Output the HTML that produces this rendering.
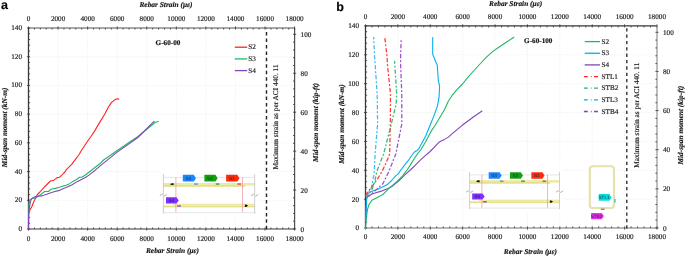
<!DOCTYPE html>
<html><head><meta charset="utf-8"><title>Chart</title>
<style>html,body{margin:0;padding:0;background:#fff;width:685px;height:256px;overflow:hidden}</style>
</head><body>
<svg width='685' height='256' viewBox='0 0 685 256' style='display:block;will-change:transform' text-rendering='geometricPrecision'><style>text{stroke:#222;stroke-width:0.18px;stroke-linejoin:round}</style><rect width='685' height='256' fill='#fff'/><path d='M58.07 28V229M87.63 28V229M117.2 28V229M146.77 28V229M176.33 28V229M205.9 28V229M235.47 28V229M265.03 28V229M294.6 28V229M28.5 200.29H294.6M28.5 171.57H294.6M28.5 142.86H294.6M28.5 114.14H294.6M28.5 85.43H294.6M28.5 56.71H294.6M28.5 28H294.6' stroke='#eeeeee' stroke-width='0.6' stroke-dasharray='2 1' fill='none'/><path d='M28.5 28H294.6' stroke='#a8a8a8' stroke-width='1.8' fill='none'/><path d='M28.5 229H294.6' stroke='#7a7a7a' stroke-width='1.6' fill='none'/><path d='M294.6 28V229' stroke='#505050' stroke-width='1.2' fill='none'/><path d='M28.5 28V229' stroke='#383838' stroke-width='1.3' fill='none'/><path d='M28.5 227.4V230.6M28.5 26.4V29.6M34.41 229V227.4M34.41 28V29.6M40.33 229V227.4M40.33 28V29.6M46.24 229V227.4M46.24 28V29.6M52.15 229V227.4M52.15 28V29.6M58.07 227.4V230.6M58.07 26.4V29.6M63.98 229V227.4M63.98 28V29.6M69.89 229V227.4M69.89 28V29.6M75.81 229V227.4M75.81 28V29.6M81.72 229V227.4M81.72 28V29.6M87.63 227.4V230.6M87.63 26.4V29.6M93.55 229V227.4M93.55 28V29.6M99.46 229V227.4M99.46 28V29.6M105.37 229V227.4M105.37 28V29.6M111.29 229V227.4M111.29 28V29.6M117.2 227.4V230.6M117.2 26.4V29.6M123.11 229V227.4M123.11 28V29.6M129.03 229V227.4M129.03 28V29.6M134.94 229V227.4M134.94 28V29.6M140.85 229V227.4M140.85 28V29.6M146.77 227.4V230.6M146.77 26.4V29.6M152.68 229V227.4M152.68 28V29.6M158.59 229V227.4M158.59 28V29.6M164.51 229V227.4M164.51 28V29.6M170.42 229V227.4M170.42 28V29.6M176.33 227.4V230.6M176.33 26.4V29.6M182.25 229V227.4M182.25 28V29.6M188.16 229V227.4M188.16 28V29.6M194.07 229V227.4M194.07 28V29.6M199.99 229V227.4M199.99 28V29.6M205.9 227.4V230.6M205.9 26.4V29.6M211.81 229V227.4M211.81 28V29.6M217.73 229V227.4M217.73 28V29.6M223.64 229V227.4M223.64 28V29.6M229.55 229V227.4M229.55 28V29.6M235.47 227.4V230.6M235.47 26.4V29.6M241.38 229V227.4M241.38 28V29.6M247.29 229V227.4M247.29 28V29.6M253.21 229V227.4M253.21 28V29.6M259.12 229V227.4M259.12 28V29.6M265.03 227.4V230.6M265.03 26.4V29.6M270.95 229V227.4M270.95 28V29.6M276.86 229V227.4M276.86 28V29.6M282.77 229V227.4M282.77 28V29.6M288.69 229V227.4M288.69 28V29.6M294.6 227.4V230.6M294.6 26.4V29.6M26.9 229H30.1M28.5 223.26H30.1M28.5 217.51H30.1M28.5 211.77H30.1M28.5 206.03H30.1M26.9 200.29H30.1M28.5 194.54H30.1M28.5 188.8H30.1M28.5 183.06H30.1M28.5 177.31H30.1M26.9 171.57H30.1M28.5 165.83H30.1M28.5 160.09H30.1M28.5 154.34H30.1M28.5 148.6H30.1M26.9 142.86H30.1M28.5 137.11H30.1M28.5 131.37H30.1M28.5 125.63H30.1M28.5 119.89H30.1M26.9 114.14H30.1M28.5 108.4H30.1M28.5 102.66H30.1M28.5 96.91H30.1M28.5 91.17H30.1M26.9 85.43H30.1M28.5 79.69H30.1M28.5 73.94H30.1M28.5 68.2H30.1M28.5 62.46H30.1M26.9 56.71H30.1M28.5 50.97H30.1M28.5 45.23H30.1M28.5 39.49H30.1M28.5 33.74H30.1M26.9 28H30.1M293 229H296.2M294.6 221.21H293M294.6 213.43H293M294.6 205.64H293M294.6 197.85H293M293 190.07H296.2M294.6 182.28H293M294.6 174.5H293M294.6 166.71H293M294.6 158.92H293M293 151.14H296.2M294.6 143.35H293M294.6 135.56H293M294.6 127.78H293M294.6 119.99H293M293 112.21H296.2M294.6 104.42H293M294.6 96.63H293M294.6 88.85H293M294.6 81.06H293M293 73.27H296.2M294.6 65.49H293M294.6 57.7H293M294.6 49.92H293M294.6 42.13H293M293 34.34H296.2' stroke='#333' stroke-width='0.8' fill='none'/><g style="font-family:'Liberation Serif',serif;font-size:7.2px" fill='#222'><text x='28.5' y='21.2' text-anchor='middle'>0</text><text x='28.5' y='240.6' text-anchor='middle'>0</text><text x='58.07' y='21.2' text-anchor='middle'>2000</text><text x='58.07' y='240.6' text-anchor='middle'>2000</text><text x='87.63' y='21.2' text-anchor='middle'>4000</text><text x='87.63' y='240.6' text-anchor='middle'>4000</text><text x='117.2' y='21.2' text-anchor='middle'>6000</text><text x='117.2' y='240.6' text-anchor='middle'>6000</text><text x='146.77' y='21.2' text-anchor='middle'>8000</text><text x='146.77' y='240.6' text-anchor='middle'>8000</text><text x='176.33' y='21.2' text-anchor='middle'>10000</text><text x='176.33' y='240.6' text-anchor='middle'>10000</text><text x='205.9' y='21.2' text-anchor='middle'>12000</text><text x='205.9' y='240.6' text-anchor='middle'>12000</text><text x='235.47' y='21.2' text-anchor='middle'>14000</text><text x='235.47' y='240.6' text-anchor='middle'>14000</text><text x='265.03' y='21.2' text-anchor='middle'>16000</text><text x='265.03' y='240.6' text-anchor='middle'>16000</text><text x='294.6' y='21.2' text-anchor='middle'>18000</text><text x='294.6' y='240.6' text-anchor='middle'>18000</text><text x='22' y='231' text-anchor='end'>0</text><text x='22' y='202.29' text-anchor='end'>20</text><text x='22' y='173.57' text-anchor='end'>40</text><text x='22' y='144.86' text-anchor='end'>60</text><text x='22' y='116.14' text-anchor='end'>80</text><text x='22' y='87.43' text-anchor='end'>100</text><text x='22' y='58.71' text-anchor='end'>120</text><text x='22' y='30' text-anchor='end'>140</text><text x='300.6' y='231.5'>0</text><text x='300.6' y='192.57'>20</text><text x='300.6' y='153.64'>40</text><text x='300.6' y='114.71'>60</text><text x='300.6' y='75.77'>80</text><text x='300.6' y='36.84'>100</text></g><text transform='translate(166 6.7)' text-anchor='middle' style="font-family:'Liberation Serif',serif;font-size:7.4px;font-weight:bold;font-style:italic" fill='#111'>Rebar Strain (με)</text><text transform='translate(172.5 253.2)' text-anchor='middle' style="font-family:'Liberation Serif',serif;font-size:7.4px;font-weight:bold;font-style:italic" fill='#111'>Rebar Strain (με)</text><text transform='translate(6.8 127.3) rotate(-90)' text-anchor='middle' style="font-family:'Liberation Serif',serif;font-size:7.4px;font-weight:bold;font-style:italic" fill='#111'>Mid-span moment (kN-m)</text><text transform='translate(318 122.5) rotate(-90)' text-anchor='middle' style="font-family:'Liberation Serif',serif;font-size:7.4px;font-weight:bold;font-style:italic" fill='#111'>Mid-span moment (kip-ft)</text><path d='M266.5 229.3V28.5' stroke='#222' stroke-width='1.4' stroke-dasharray='3.5 2.96' fill='none'/><text transform='translate(277.8 116.95) rotate(-90)' text-anchor='middle' style="font-family:'Liberation Serif',serif;font-size:7.32px" fill='#222'>Maximum strain as per ACI 440. 11</text><text transform='translate(155.6 45.4)' style="font-family:'Liberation Serif',serif;font-size:7.2px;font-weight:bold" fill='#111'>G-60-00</text><path d='M234.8 47.2H247.2' stroke='#ff2222' stroke-width='1.3' fill='none'/><text x='248.2' y='49.25' style="font-family:'Liberation Serif',serif;font-size:7.2px" fill='#222'>S2</text><path d='M234.8 58.9H247.2' stroke='#1fb864' stroke-width='1.3' fill='none'/><text x='248.2' y='60.95' style="font-family:'Liberation Serif',serif;font-size:7.2px" fill='#222'>S3</text><path d='M234.8 70.6H247.2' stroke='#8048b8' stroke-width='1.3' fill='none'/><text x='248.2' y='72.65' style="font-family:'Liberation Serif',serif;font-size:7.2px" fill='#222'>S4</text><path d='M397.89 25.9V228M430.28 25.9V228M462.67 25.9V228M495.06 25.9V228M527.44 25.9V228M559.83 25.9V228M592.22 25.9V228M624.61 25.9V228M657 25.9V228M365.5 199.13H657M365.5 170.26H657M365.5 141.39H657M365.5 112.51H657M365.5 83.64H657M365.5 54.77H657M365.5 25.9H657' stroke='#eeeeee' stroke-width='0.6' stroke-dasharray='2 1' fill='none'/><path d='M365.5 25.9H657' stroke='#383838' stroke-width='1.3' fill='none'/><path d='M365.5 228H657' stroke='#a0a0a0' stroke-width='1.6' fill='none'/><path d='M657 25.9V228' stroke='#a8a8a8' stroke-width='1.5' fill='none'/><path d='M365.5 25.9V228' stroke='#383838' stroke-width='1.3' fill='none'/><path d='M365.5 226.4V229.6M365.5 24.3V27.5M371.98 228V226.4M371.98 25.9V27.5M378.46 228V226.4M378.46 25.9V27.5M384.93 228V226.4M384.93 25.9V27.5M391.41 228V226.4M391.41 25.9V27.5M397.89 226.4V229.6M397.89 24.3V27.5M404.37 228V226.4M404.37 25.9V27.5M410.84 228V226.4M410.84 25.9V27.5M417.32 228V226.4M417.32 25.9V27.5M423.8 228V226.4M423.8 25.9V27.5M430.28 226.4V229.6M430.28 24.3V27.5M436.76 228V226.4M436.76 25.9V27.5M443.23 228V226.4M443.23 25.9V27.5M449.71 228V226.4M449.71 25.9V27.5M456.19 228V226.4M456.19 25.9V27.5M462.67 226.4V229.6M462.67 24.3V27.5M469.14 228V226.4M469.14 25.9V27.5M475.62 228V226.4M475.62 25.9V27.5M482.1 228V226.4M482.1 25.9V27.5M488.58 228V226.4M488.58 25.9V27.5M495.06 226.4V229.6M495.06 24.3V27.5M501.53 228V226.4M501.53 25.9V27.5M508.01 228V226.4M508.01 25.9V27.5M514.49 228V226.4M514.49 25.9V27.5M520.97 228V226.4M520.97 25.9V27.5M527.44 226.4V229.6M527.44 24.3V27.5M533.92 228V226.4M533.92 25.9V27.5M540.4 228V226.4M540.4 25.9V27.5M546.88 228V226.4M546.88 25.9V27.5M553.36 228V226.4M553.36 25.9V27.5M559.83 226.4V229.6M559.83 24.3V27.5M566.31 228V226.4M566.31 25.9V27.5M572.79 228V226.4M572.79 25.9V27.5M579.27 228V226.4M579.27 25.9V27.5M585.74 228V226.4M585.74 25.9V27.5M592.22 226.4V229.6M592.22 24.3V27.5M598.7 228V226.4M598.7 25.9V27.5M605.18 228V226.4M605.18 25.9V27.5M611.66 228V226.4M611.66 25.9V27.5M618.13 228V226.4M618.13 25.9V27.5M624.61 226.4V229.6M624.61 24.3V27.5M631.09 228V226.4M631.09 25.9V27.5M637.57 228V226.4M637.57 25.9V27.5M644.04 228V226.4M644.04 25.9V27.5M650.52 228V226.4M650.52 25.9V27.5M657 226.4V229.6M657 24.3V27.5M363.9 228H367.1M365.5 222.23H367.1M365.5 216.45H367.1M365.5 210.68H367.1M365.5 204.9H367.1M363.9 199.13H367.1M365.5 193.35H367.1M365.5 187.58H367.1M365.5 181.81H367.1M365.5 176.03H367.1M363.9 170.26H367.1M365.5 164.48H367.1M365.5 158.71H367.1M365.5 152.93H367.1M365.5 147.16H367.1M363.9 141.39H367.1M365.5 135.61H367.1M365.5 129.84H367.1M365.5 124.06H367.1M365.5 118.29H367.1M363.9 112.51H367.1M365.5 106.74H367.1M365.5 100.97H367.1M365.5 95.19H367.1M365.5 89.42H367.1M363.9 83.64H367.1M365.5 77.87H367.1M365.5 72.09H367.1M365.5 66.32H367.1M365.5 60.55H367.1M363.9 54.77H367.1M365.5 49H367.1M365.5 43.22H367.1M365.5 37.45H367.1M365.5 31.67H367.1M363.9 25.9H367.1M655.4 228H658.6M657 220.17H655.4M657 212.34H655.4M657 204.51H655.4M657 196.68H655.4M655.4 188.86H658.6M657 181.03H655.4M657 173.2H655.4M657 165.37H655.4M657 157.54H655.4M655.4 149.71H658.6M657 141.88H655.4M657 134.05H655.4M657 126.22H655.4M657 118.4H655.4M655.4 110.57H658.6M657 102.74H655.4M657 94.91H655.4M657 87.08H655.4M657 79.25H655.4M655.4 71.42H658.6M657 63.59H655.4M657 55.76H655.4M657 47.94H655.4M657 40.11H655.4M655.4 32.28H658.6' stroke='#333' stroke-width='0.8' fill='none'/><g style="font-family:'Liberation Serif',serif;font-size:7.2px" fill='#222'><text x='365.5' y='18.9' text-anchor='middle'>0</text><text x='365.5' y='239.3' text-anchor='middle'>0</text><text x='397.89' y='18.9' text-anchor='middle'>2000</text><text x='397.89' y='239.3' text-anchor='middle'>2000</text><text x='430.28' y='18.9' text-anchor='middle'>4000</text><text x='430.28' y='239.3' text-anchor='middle'>4000</text><text x='462.67' y='18.9' text-anchor='middle'>6000</text><text x='462.67' y='239.3' text-anchor='middle'>6000</text><text x='495.06' y='18.9' text-anchor='middle'>8000</text><text x='495.06' y='239.3' text-anchor='middle'>8000</text><text x='527.44' y='18.9' text-anchor='middle'>10000</text><text x='527.44' y='239.3' text-anchor='middle'>10000</text><text x='559.83' y='18.9' text-anchor='middle'>12000</text><text x='559.83' y='239.3' text-anchor='middle'>12000</text><text x='592.22' y='18.9' text-anchor='middle'>14000</text><text x='592.22' y='239.3' text-anchor='middle'>14000</text><text x='624.61' y='18.9' text-anchor='middle'>16000</text><text x='624.61' y='239.3' text-anchor='middle'>16000</text><text x='657' y='18.9' text-anchor='middle'>18000</text><text x='657' y='239.3' text-anchor='middle'>18000</text><text x='359' y='230.4' text-anchor='end'>0</text><text x='359' y='201.53' text-anchor='end'>20</text><text x='359' y='172.66' text-anchor='end'>40</text><text x='359' y='143.79' text-anchor='end'>60</text><text x='359' y='114.91' text-anchor='end'>80</text><text x='359' y='86.04' text-anchor='end'>100</text><text x='359' y='57.17' text-anchor='end'>120</text><text x='359' y='28.3' text-anchor='end'>140</text><text x='663' y='230.5'>0</text><text x='663' y='191.36'>20</text><text x='663' y='152.21'>40</text><text x='663' y='113.07'>60</text><text x='663' y='73.92'>80</text><text x='663' y='34.78'>100</text></g><text transform='translate(515.6 6.3)' text-anchor='middle' style="font-family:'Liberation Serif',serif;font-size:7.4px;font-weight:bold;font-style:italic" fill='#111'>Rebar Strain (με)</text><text transform='translate(530.4 253.7)' text-anchor='middle' style="font-family:'Liberation Serif',serif;font-size:7.4px;font-weight:bold;font-style:italic" fill='#111'>Rebar Strain (με)</text><text transform='translate(344.2 124) rotate(-90)' text-anchor='middle' style="font-family:'Liberation Serif',serif;font-size:7.4px;font-weight:bold;font-style:italic" fill='#111'>Mid-span moment (kN-m)</text><text transform='translate(683 125.2) rotate(-90)' text-anchor='middle' style="font-family:'Liberation Serif',serif;font-size:7.4px;font-weight:bold;font-style:italic" fill='#111'>Mid-span moment (kip-ft)</text><path d='M626.8 228.5V26.4' stroke='#222' stroke-width='1.3' stroke-dasharray='3.3 3.055' fill='none'/><text transform='translate(638.8 115.2) rotate(-90)' text-anchor='middle' style="font-family:'Liberation Serif',serif;font-size:7.32px" fill='#222'>Maximum strain as per ACI 440. 11</text><text transform='translate(524.1 43.4)' style="font-family:'Liberation Serif',serif;font-size:7.2px;font-weight:bold" fill='#111'>G-60-100</text><path d='M584.7 41.6H600' stroke='#1fb864' stroke-width='1.3' fill='none'/><text x='601.5' y='43.65' style="font-family:'Liberation Serif',serif;font-size:7.2px" fill='#222'>S2</text><path d='M584.7 53.25H600' stroke='#00b0f0' stroke-width='1.3' fill='none'/><text x='601.5' y='55.3' style="font-family:'Liberation Serif',serif;font-size:7.2px" fill='#222'>S3</text><path d='M584.7 64.9H600' stroke='#8048b8' stroke-width='1.3' fill='none'/><text x='601.5' y='66.95' style="font-family:'Liberation Serif',serif;font-size:7.2px" fill='#222'>S4</text><path d='M583.9 76.55H598.4' stroke='#ff2222' stroke-width='1.3' stroke-dasharray='3.9 3 0.8 2.4' fill='none'/><text x='601.5' y='78.6' style="font-family:'Liberation Serif',serif;font-size:7.2px" fill='#222'>STL1</text><path d='M583.9 88.2H598.4' stroke='#1fb864' stroke-width='1.3' stroke-dasharray='3.9 3 0.8 2.4' fill='none'/><text x='601.5' y='90.25' style="font-family:'Liberation Serif',serif;font-size:7.2px" fill='#222'>STB2</text><path d='M583.9 99.85H598.4' stroke='#00b0f0' stroke-width='1.3' stroke-dasharray='3.9 3 0.8 2.4' fill='none'/><text x='601.5' y='101.9' style="font-family:'Liberation Serif',serif;font-size:7.2px" fill='#222'>STL3</text><path d='M583.9 111.5H598.4' stroke='#9933cc' stroke-width='1.3' stroke-dasharray='3.9 3 0.8 2.4' fill='none'/><text x='601.5' y='113.55' style="font-family:'Liberation Serif',serif;font-size:7.2px" fill='#222'>STB4</text><text x='0.9' y='9.0' style="font-family:'Liberation Sans',sans-serif;font-size:12.5px;font-weight:bold" fill='#000'>a</text><text x='336.2' y='11.3' style="font-family:'Liberation Sans',sans-serif;font-size:12.5px;font-weight:bold" fill='#000'>b</text><path d='M28.6 214 L29.3 210.6 L30.1 209.6 L31.9 206.5 L32.8 204 L34.6 200.1 L36 197.3 L37.4 194.5 L39.9 192 L43.8 187.6 L46.9 184.5 L50.5 181 L54 180.2 L57.1 177.6 L59.4 177.3 L62.6 174.3 L64.9 172 L65.9 170.2 L71.7 164.4 L75.2 159.7 L78.8 155 L81.7 150 L87.2 141.7 L91.1 136.25 L95 130.4 L99.4 122.9 L104.8 114 L108.3 107.3 L111.4 102.6 L114.5 99.9 L116.9 98.8 L118.8 99.1' stroke='#ff2222' stroke-width='1.1' fill='none' stroke-linejoin='round' stroke-linecap='round'/><path d='M28.5 228.6 L28.7 213 L28.9 204 L29.6 200.1 L31.7 198.7 L33.9 198.3 L36 198 L38.1 196.2 L40.9 194.5 L43 192.7 L44.6 191.5 L48.5 191.5 L50.8 189.3 L55.5 188.4 L59.4 187.2 L63.3 185.9 L66 185.3 L68.2 184.6 L72.9 181.4 L76.4 179.6 L79.3 177.3 L81.7 177.3 L84.6 175.5 L89.3 172 L95.2 167.3 L99.9 163.8 L103.6 160 L116.5 151 L137.9 136.5 L155.1 122.5 L158.3 121.4' stroke='#1fb864' stroke-width='1.1' fill='none' stroke-linejoin='round' stroke-linecap='round'/><path d='M28.4 228.6 L28.6 215 L29.2 208.6 L30 204 L31 199.7 L32.5 198 L34.6 196.9 L38.1 196.2 L41.6 195.9 L45.1 194.8 L48 193.7 L53.2 192 L59.4 190.4 L63.3 188.6 L66 187.6 L71.7 185 L77.6 181.4 L83.4 178.4 L85.8 177.3 L89.3 174.9 L95.2 170.2 L99.9 166.1 L116.5 152.6 L137.9 137.5 L154 121.4' stroke='#8048b8' stroke-width='1.1' fill='none' stroke-linejoin='round' stroke-linecap='round'/><path d='M365.7 220 L366 210 L366.4 200 L366.8 197 L368.7 196.3 L371 194.6 L375.7 192.8 L381.6 191.1 L387.4 188.7 L392.1 186.4 L399.1 180.5 L405 174.7 L410.9 169.5 L415.6 164.8 L420.3 160.2 L425 155.9 L430.1 151.5 L434.4 147.2 L438.3 142.9 L440.6 141.2 L444.5 139.4 L448.4 137.1 L452 133.8 L462.2 125.3 L472.3 117.7 L482 111' stroke='#8048b8' stroke-width='1.1' fill='none' stroke-linejoin='round' stroke-linecap='round'/><path d='M365.6 228.5 L365.9 221.7 L366.7 215.7 L367.4 209.8 L368.9 204.6 L371.9 200.2 L376.3 197.9 L379.4 196.3 L382.6 194.8 L388.6 188.7 L396.8 181.7 L402.6 175.9 L407.4 169.5 L410.9 164.1 L414.8 157.8 L418 153.1 L420.7 150 L425.5 142 L431.2 131.1 L435.3 125 L439.8 117.5 L444.3 110 L448.3 101.3 L452.3 95.2 L457.4 89.1 L462.5 84 L468 77.2 L474 70.5 L480 64 L486.7 56.9 L492.6 51.6 L498.4 47.5 L505.5 42.8 L513.8 37.3' stroke='#1fb864' stroke-width='1.1' fill='none' stroke-linejoin='round' stroke-linecap='round'/><path d='M365.8 220 L366.1 210 L366.5 200 L367.3 195.7 L368.1 193.4 L371 191.7 L375.7 189.9 L381.6 187.6 L387.4 184.6 L392.1 180 L395.6 175.9 L398 174.1 L401.2 169.5 L404.7 164.8 L408.6 160.2 L411.7 155.5 L414.5 152 L415.6 151.2 L417.2 150.4 L418.8 148.7 L425.8 135.8 L430.2 125 L433.8 116.1 L437.3 106.4 L439 97.6 L439.6 87 L439.3 84.6 L438.3 80.8 L437.3 65.5 L434.7 59.2 L432.7 54.1 L432.7 37.6' stroke='#00b0f0' stroke-width='1.1' fill='none' stroke-linejoin='round' stroke-linecap='round'/><path d='M366.2 197 L368.5 192.5 L371.3 188 L374.2 173 L375.1 154 L377.6 124 L377.2 94 L375.2 65 L374.5 56 L373.7 37.3' stroke='#3cbef0' stroke-width='1.3' fill='none' stroke-linejoin='round' stroke-linecap='round' stroke-dasharray='3.3 2.9 0.9 2.9'/><path d='M365.9 195 L370 189 L373.4 184.6 L378 178.2 L382.1 171.2 L386.5 162 L389.7 154 L390.3 124 L390.5 94 L387.5 65 L387 56 L384.8 37.5' stroke='#ff3c3c' stroke-width='1.3' fill='none' stroke-linejoin='round' stroke-linecap='round' stroke-dasharray='3.3 2.9 0.9 2.9'/><path d='M366.5 198 L369 193.5 L372.2 189 L375 181 L376.6 172 L383.6 154 L391.3 124 L394.2 112 L396 105 L396.7 94 L394.8 65 L394.6 61.5' stroke='#38bf74' stroke-width='1.3' fill='none' stroke-linejoin='round' stroke-linecap='round' stroke-dasharray='3.3 2.9 0.9 2.9'/><path d='M367 197 L372 193.5 L379.2 187 L383 183.5 L388.6 172 L395.8 154 L401.8 124 L401.8 94 L400.6 65 L400.6 56 L401.2 38.1' stroke='#9a55c8' stroke-width='1.3' fill='none' stroke-linejoin='round' stroke-linecap='round' stroke-dasharray='3.3 2.9 0.9 2.9'/><rect x='158.5' y='167' width='100' height='49' fill='#fff'/><rect x='466.5' y='166' width='96.5' height='47' fill='#fff'/><rect x='586.5' y='163' width='30.5' height='58' fill='#fff'/><path d='M163.4 177.4H254.7M163.4 212.7H254.7' stroke='#d4d4d4' stroke-width='0.6' fill='none'/><rect x='163.4' y='183' width='91.3' height='1.9' fill='#ece9a4'/><rect x='163.4' y='184.9' width='82' height='1.9' fill='#e4e08e'/><rect x='245.4' y='184.9' width='9.3' height='1' fill='#f1efc0'/><rect x='163.4' y='205.55' width='91.3' height='1.85' fill='#e4e08e'/><rect x='172.9' y='203.7' width='81.8' height='1.85' fill='#ece9a4'/><path d='M175.9 177.4V212.4M242.5 177.4V212.4' stroke='#ec8c94' stroke-width='0.65' fill='none'/><path d='M163.4 174.1V194M163.4 196V213.8' stroke='#c2c2c2' stroke-width='0.8' fill='none'/><path d='M159.8 195.7L162.4 194.1L164.4 196L167 194.5' stroke='#a0a0a0' stroke-width='0.8' fill='none' stroke-linejoin='round'/><path d='M254.7 174.1V194M254.7 196V213.8' stroke='#c2c2c2' stroke-width='0.8' fill='none'/><path d='M251.1 195.7L253.7 194.1L255.7 196L258.3 194.5' stroke='#a0a0a0' stroke-width='0.8' fill='none' stroke-linejoin='round'/><path d='M169.7 184.15L172 183.15H173.6V185.1H172Z' fill='#111'/><path d='M248.1 205.75L246.1 204.6H244.9V206.9H246.1Z' fill='#111'/><rect x='194.2' y='183.4' width='3.6' height='1.3' fill='#4a8fd0'/><rect x='215.8' y='183.4' width='3.6' height='1.3' fill='#2e9a2e'/><rect x='237.4' y='183.4' width='3.6' height='1.3' fill='#e04020'/><rect x='177.2' y='205.3' width='3.6' height='1.3' fill='#7a3fd0'/><path d='M182.8 174.7H193.8L196 178.15L193.8 181.6H182.8Z' fill='#1a86ff'/><text x='188.3' y='179.81' text-anchor='middle' style="font-family:'Liberation Sans',sans-serif;font-size:4.6px;stroke:none" fill='#1e2a3a'>S3</text><path d='M204.4 174.7H215.4L217.6 178.15L215.4 181.6H204.4Z' fill='#10a010'/><text x='209.9' y='179.81' text-anchor='middle' style="font-family:'Liberation Sans',sans-serif;font-size:4.6px;stroke:none" fill='#1e2a3a'>S2</text><path d='M226.1 174.7H237.3L239.5 178.15L237.3 181.6H226.1Z' fill='#ff2a0a'/><text x='231.7' y='179.81' text-anchor='middle' style="font-family:'Liberation Sans',sans-serif;font-size:4.6px;stroke:none" fill='#1e2a3a'>S1</text><path d='M166 197.3H176.5L178.7 200.4L176.5 203.5H166Z' fill='#7f2fff'/><text x='171.25' y='202.06' text-anchor='middle' style="font-family:'Liberation Sans',sans-serif;font-size:4.6px;stroke:none" fill='#1e2a3a'>S4</text><path d='M469.6 174.9H559.53M469.6 208.08H559.53' stroke='#d4d4d4' stroke-width='0.6' fill='none'/><rect x='469.6' y='180.17' width='89.93' height='1.79' fill='#ece9a4'/><rect x='469.6' y='181.95' width='80.77' height='1.79' fill='#e4e08e'/><rect x='550.37' y='181.95' width='9.16' height='0.94' fill='#f1efc0'/><rect x='469.6' y='201.36' width='89.93' height='1.74' fill='#e4e08e'/><rect x='478.96' y='199.62' width='80.57' height='1.74' fill='#ece9a4'/><path d='M481.91 174.9V207.8M547.51 174.9V207.8' stroke='#ec8c94' stroke-width='0.65' fill='none'/><path d='M469.6 171.8V190.45M469.6 192.45V209.12' stroke='#c2c2c2' stroke-width='0.8' fill='none'/><path d='M466 192.15L468.6 190.55L470.6 192.45L473.2 190.95' stroke='#a0a0a0' stroke-width='0.8' fill='none' stroke-linejoin='round'/><path d='M559.53 171.8V190.45M559.53 192.45V209.12' stroke='#c2c2c2' stroke-width='0.8' fill='none'/><path d='M555.93 192.15L558.53 190.55L560.53 192.45L563.13 190.95' stroke='#a0a0a0' stroke-width='0.8' fill='none' stroke-linejoin='round'/><path d='M475.81 181.25L478.07 180.25H479.65V182.2H478.07Z' fill='#111'/><path d='M553.03 201.55L551.06 200.4H549.88V202.7H551.06Z' fill='#111'/><rect x='499.94' y='180.54' width='3.55' height='1.3' fill='#4a8fd0'/><rect x='521.21' y='180.54' width='3.55' height='1.3' fill='#2e9a2e'/><rect x='542.49' y='180.54' width='3.55' height='1.3' fill='#e04020'/><rect x='483.19' y='201.13' width='3.55' height='1.3' fill='#7a3fd0'/><path d='M488.71 172.36H499.51L501.71 175.61L499.51 178.85H488.71Z' fill='#1a86ff'/><text x='494.11' y='177.26' text-anchor='middle' style="font-family:'Liberation Sans',sans-serif;font-size:4.6px;stroke:none" fill='#1e2a3a'>S3</text><path d='M509.99 172.36H520.79L522.99 175.61L520.79 178.85H509.99Z' fill='#10a010'/><text x='515.39' y='177.26' text-anchor='middle' style="font-family:'Liberation Sans',sans-serif;font-size:4.6px;stroke:none" fill='#1e2a3a'>S2</text><path d='M531.36 172.36H542.36L544.56 175.61L542.36 178.85H531.36Z' fill='#ff2a0a'/><text x='536.86' y='177.26' text-anchor='middle' style="font-family:'Liberation Sans',sans-serif;font-size:4.6px;stroke:none" fill='#1e2a3a'>S1</text><path d='M472.16 193.61H482.47L484.67 196.52L482.47 199.44H472.16Z' fill='#7f2fff'/><text x='477.32' y='198.18' text-anchor='middle' style="font-family:'Liberation Sans',sans-serif;font-size:4.6px;stroke:none" fill='#1e2a3a'>S4</text><rect x='589.8' y='166.3' width='24.1' height='41.7' rx='3' ry='3' fill='none' stroke='#dedaa0' stroke-width='2.1'/><rect x='589.8' y='166.3' width='24.1' height='41.7' rx='3' ry='3' fill='none' stroke='#f0edc2' stroke-width='0.8'/><path d='M598.7 194.1H609.4L611.6 197.45L609.4 200.8H598.7Z' fill='#00e0e0'/><text x='604.05' y='199.11' text-anchor='middle' style="font-family:'Liberation Sans',sans-serif;font-size:4.6px;stroke:none" fill='#1e2a3a'>STL1</text><rect x='614.2' y='199' width='1.5' height='3.6' fill='#40c8c8'/><rect x='600.8' y='208.7' width='3.8' height='1.1' fill='#c030c0'/><path d='M591.1 212.9H601.8L604 216.1L601.8 219.3H591.1Z' fill='#e830e8'/><text x='596.45' y='217.76' text-anchor='middle' style="font-family:'Liberation Sans',sans-serif;font-size:4.6px;stroke:none" fill='#1e2a3a'>STB2</text></svg>
</body></html>
